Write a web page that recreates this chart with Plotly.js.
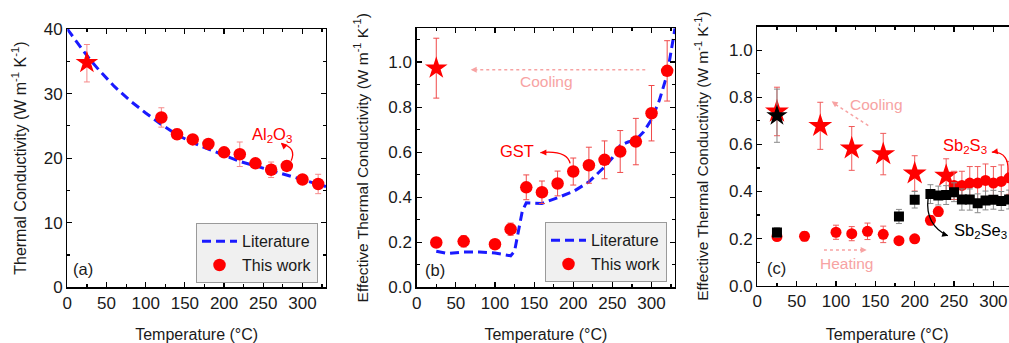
<!DOCTYPE html>
<html>
<head>
<meta charset="utf-8">
<script src="https://cdn.plot.ly/plotly-3.0.1.min.js"></script>
<style>
html,body{margin:0;padding:0;overflow:hidden;background:#fff;}
#chart{width:1030px;height:343px;}
</style>
</head>
<body>
<div id="chart"></div>
<script>
// ---------- Panel (a): Al2O3 ----------
const litA_T = [0,10,20,30,40,60,80,100,120,140,160,180,200,220,240,260,280,300,320,330];
const litA_k = [40.0,38.3,36.7,35.1,33.7,31.1,28.9,27.0,25.2,23.6,22.4,21.4,20.4,19.5,18.8,18.1,17.4,16.7,16.0,15.6];
const ptsA_T = [120,140,160,180,200,220,240,260,280,300,320];
const ptsA_k = [26.3,23.7,22.9,22.2,20.9,20.6,19.2,18.2,18.8,16.7,16.0];
const ptsA_err = [1.5,0.8,0.6,0.5,0.4,1.9,0.5,1.2,0.4,0.5,1.5];
const starA_T = [25];
const starA_k = [34.8];
const starA_errPlus = [2.8];
const starA_errMinus = [3.0];

// ---------- Panel (b): GST ----------
const litB_T = [25,40,60,80,100,120,125,130,135,140,160,180,200,220,240,250,260,270,280,290,300,310,320,330];
const litB_k = [0.160,0.150,0.157,0.157,0.152,0.140,0.160,0.250,0.340,0.375,0.372,0.398,0.425,0.468,0.535,0.575,0.630,0.645,0.655,0.690,0.745,0.830,0.945,1.150];
const ptsB_T = [25,60,100,120,140,160,180,200,220,240,260,280,300,320];
const ptsB_k = [0.199,0.204,0.191,0.258,0.444,0.422,0.461,0.514,0.542,0.566,0.603,0.647,0.773,0.961];
const ptsB_err = [0.015,0.025,0.012,0.027,0.055,0.050,0.055,0.060,0.080,0.084,0.093,0.103,0.123,0.134];
const starB_T = [25];
const starB_k = [0.973];
const starB_err = [0.133];

// ---------- Panel (c): Sb2S3 / Sb2Se3 ----------
const coolS_T = [25,80,120,160,200,240];
const coolS_k = [0.740,0.679,0.583,0.559,0.477,0.467];
const coolS_err = [0.103,0.100,0.093,0.088,0.075,0.072];
const heatS_T = [25,60,100,120,140,160,180,200,220,230,250,260,270,280,290,300,310,320,330];
const heatS_k = [0.209,0.210,0.227,0.221,0.231,0.218,0.191,0.199,0.278,0.315,0.426,0.426,0.436,0.436,0.447,0.436,0.443,0.458,0.470];
const heatS_err = [0.015,0.020,0.030,0.030,0.035,0.035,0.010,0.010,0.020,0.020,0.060,0.060,0.070,0.070,0.070,0.070,0.070,0.070,0.070];
const heatSe_T = [25,180,200,220,230,240,250,260,270,280,290,300,310,320,330];
const heatSe_k = [0.226,0.294,0.365,0.389,0.383,0.385,0.397,0.366,0.366,0.350,0.362,0.365,0.360,0.366,0.370];
const heatSe_err = [0.020,0.030,0.035,0.040,0.040,0.040,0.040,0.045,0.045,0.040,0.040,0.040,0.040,0.040,0.040];
const coolSe_T = [25];
const coolSe_k = [0.722];
const coolSe_err = [0.113];

const xTitle = 'Temperature (°C)';
const yTitleA = 'Thermal Conductivity (W m<sup>-1</sup> K<sup>-1</sup>)';
const yTitleBC = 'Effective Thermal Conductivity (W m<sup>-1</sup> K<sup>-1</sup>)';

// ---------- styling ----------
const W = 1030, H = 343;
const FONT = 'Liberation Sans, Arial, sans-serif';
const RED = '#ff0000', BLUE = '#1a1aff', PINK = '#f7a3a3';
const px = v => v / W, py = v => 1 - v / H;

function xAxis(dom, anchor) {
  return {
    domain: [px(dom[0]), px(dom[1])], anchor: anchor, range: [0, 330],
    dtick: 50, tick0: 0, ticks: 'inside', ticklen: 5, tickwidth: 1.2, tickcolor: '#000',
    minor: {dtick: 25, ticks: 'inside', ticklen: 3, tickwidth: 1.2, tickcolor: '#000', showgrid: false},
    showline: true, linecolor: '#000', linewidth: 1.3, mirror: 'allticks',
    showgrid: false, zeroline: false,
    tickfont: {family: FONT, size: 17, color: '#1a1a1a'},
    title: {text: xTitle, font: {family: FONT, size: 16, color: '#1a1a1a'}, standoff: 18}
  };
}
function yAxis(dom, anchor, range, dtick, mdt, title, fmt, tsize, stand) {
  return {
    domain: [py(dom[1]), py(dom[0])], anchor: anchor, range: range,
    dtick: dtick, tick0: 0, ticks: 'inside', ticklen: 5, tickwidth: 1.2, tickcolor: '#000',
    minor: {dtick: mdt, ticks: 'inside', ticklen: 3, tickwidth: 1.2, tickcolor: '#000', showgrid: false},
    showline: true, linecolor: '#000', linewidth: 1.3, mirror: 'allticks',
    showgrid: false, zeroline: false, tickformat: fmt,
    tickfont: {family: FONT, size: 17, color: '#1a1a1a'},
    title: {text: title, font: {family: FONT, size: tsize, color: '#1a1a1a'}, standoff: stand}
  };
}

const errStyle = (arr, color, minus) => ({
  type: 'data', array: arr, arrayminus: minus || arr, symmetric: !minus,
  visible: true, color: color, thickness: 1, width: 3
});

const traces = [
  // (a)
  {x: litA_T, y: litA_k, xaxis: 'x', yaxis: 'y', mode: 'lines', name: 'Literature', legend: 'legend',
   line: {color: BLUE, width: 3, dash: '9px,5px'}},
  {x: starA_T, y: starA_k, xaxis: 'x', yaxis: 'y', mode: 'markers', showlegend: false,
   marker: {symbol: 'star', size: 17, color: RED},
   error_y: errStyle(starA_errPlus, '#f68a8a', starA_errMinus)},
  {x: ptsA_T, y: ptsA_k, xaxis: 'x', yaxis: 'y', mode: 'markers', name: 'This work', legend: 'legend',
   marker: {symbol: 'circle', size: 12.5, color: RED},
   error_y: errStyle(ptsA_err, '#f68a8a')},
  // (b)
  {x: litB_T, y: litB_k, xaxis: 'x2', yaxis: 'y2', mode: 'lines', name: 'Literature', legend: 'legend2',
   line: {color: BLUE, width: 3, dash: '9px,5px'}},
  {x: starB_T, y: starB_k, xaxis: 'x2', yaxis: 'y2', mode: 'markers', showlegend: false,
   marker: {symbol: 'star', size: 17, color: RED},
   error_y: errStyle(starB_err, '#f04a4a')},
  {x: ptsB_T, y: ptsB_k, xaxis: 'x2', yaxis: 'y2', mode: 'markers', name: 'This work', legend: 'legend2',
   marker: {symbol: 'circle', size: 12.5, color: RED},
   error_y: errStyle(ptsB_err, '#f04a4a')},
  // (c)
  {x: coolS_T, y: coolS_k, xaxis: 'x3', yaxis: 'y3', mode: 'markers', showlegend: false,
   marker: {symbol: 'star', size: 18, color: RED},
   error_y: errStyle(coolS_err, '#f05a5a')},
  {x: heatS_T, y: heatS_k, xaxis: 'x3', yaxis: 'y3', mode: 'markers', showlegend: false,
   marker: {symbol: 'circle', size: 11, color: RED},
   error_y: errStyle(heatS_err, '#f05a5a')},
  {x: heatSe_T, y: heatSe_k, xaxis: 'x3', yaxis: 'y3', mode: 'markers', showlegend: false,
   marker: {symbol: 'square', size: 10, color: '#000'},
   error_y: errStyle(heatSe_err, '#8a8a8a')},
  {x: coolSe_T, y: coolSe_k, xaxis: 'x3', yaxis: 'y3', mode: 'markers', showlegend: false,
   marker: {symbol: 'star', size: 16, color: '#000'},
   error_y: errStyle(coolSe_err, '#8a8a8a')}
];

const legendStyle = (x, y) => ({
  x: px(x), y: py(y), xanchor: 'left', yanchor: 'top', xref: 'paper', yref: 'paper',
  bgcolor: '#f0f0f0', bordercolor: '#9a9a9a', borderwidth: 1,
  font: {family: FONT, size: 16, color: '#1a1a1a'}, tracegroupgap: 0, itemwidth: 35
});

const txt = (xr, yr, x, y, text, color, size) => ({
  xref: xr, yref: yr, x: x, y: y, text: text, showarrow: false,
  font: {family: FONT, size: size || 16, color: color}, xanchor: 'center', yanchor: 'middle'
});
const head = (xr, yr, x, y, ax, ay, color) => ({
  xref: xr, yref: yr, x: x, y: y, ax: ax, ay: ay, text: '', showarrow: true,
  arrowhead: 2, arrowsize: 1, arrowwidth: 1.2, arrowcolor: color
});

const annotations = [
  txt('x', 'y', 260.7, 23.6, 'Al<sub>2</sub>O<sub>3</sub>', RED, 16.5),
  head('x', 'y', 272.5, 22.3, 6, 5, RED),
  txt('x', 'y', 20.4, 2.9, '(a)', '#1a1a1a', 16.5),

  txt('x2', 'y2', 128, 0.606, 'GST', RED, 16.5),
  head('x2', 'y2', 158, 0.598, 7, 0, RED),
  txt('x2', 'y2', 166, 0.914, 'Cooling', PINK, 15.5),
  head('x2', 'y2', 69, 0.966, 8, 0, PINK),
  txt('x2', 'y2', 23.4, 0.077, '(b)', '#1a1a1a', 16.5),

  txt('x3', 'y3', 152, 0.769, 'Cooling', PINK, 15.5),
  head('x3', 'y3', 94.5, 0.783, 6, 4, PINK),
  txt('x3', 'y3', 113.6, 0.095, 'Heating', PINK, 15.5),
  head('x3', 'y3', 139, 0.152, -8, 0, PINK),
  txt('x3', 'y3', 264, 0.592, 'Sb<sub>2</sub>S<sub>3</sub>', RED, 16.5),
  head('x3', 'y3', 298, 0.567, 6, -1, RED),
  txt('x3', 'y3', 283, 0.234, 'Sb<sub>2</sub>Se<sub>3</sub>', '#000', 16.5),
  head('x3', 'y3', 242.5, 0.212, -6, -2, '#000'),
  txt('x3', 'y3', 24.6, 0.074, '(c)', '#1a1a1a', 16.5)
];

const shapes = [
  {type: 'path', xref: 'x', yref: 'y', path: 'M 285.5,19.6 Q 293,21.6 273,22.3', line: {color: RED, width: 1.3}},
  {type: 'path', xref: 'x2', yref: 'y2', path: 'M 196,0.55 Q 192,0.61 158,0.598', line: {color: RED, width: 1.3}},
  {type: 'line', xref: 'x2', yref: 'y2', x0: 292, y0: 0.966, x1: 72, y1: 0.966, line: {color: PINK, width: 1.5, dash: 'dot'}},
  {type: 'line', xref: 'x3', yref: 'y3', x0: 141, y0: 0.68, x1: 97, y1: 0.775, line: {color: PINK, width: 1.5, dash: 'dot'}},
  {type: 'line', xref: 'x3', yref: 'y3', x0: 84.7, y0: 0.152, x1: 136, y1: 0.152, line: {color: PINK, width: 1.5, dash: 'dot'}},
  {type: 'path', xref: 'x3', yref: 'y3', path: 'M 318,0.47 Q 322,0.57 298,0.567', line: {color: RED, width: 1.3}},
  {type: 'path', xref: 'x3', yref: 'y3', path: 'M 217,0.37 Q 213,0.26 242,0.212', line: {color: '#000', width: 1.3}}
];

const layout = {
  width: W, height: H, margin: {l: 0, r: 0, t: 0, b: 0, pad: 0},
  paper_bgcolor: '#fff', plot_bgcolor: '#fff',
  font: {family: FONT, color: '#1a1a1a'},
  xaxis: xAxis([67.3, 326], 'y'),
  yaxis: yAxis([29, 287.3], 'x', [0, 40], 10, 5, yTitleA, 'd', 16, 13),
  xaxis2: xAxis([416.7, 675], 'y2'),
  yaxis2: yAxis([28.3, 287.3], 'x2', [0, 1.15], 0.2, 0.1, yTitleBC, '.1f', 15.5, 16),
  xaxis3: xAxis([757.3, 1017], 'y3'),
  yaxis3: yAxis([26.7, 285.7], 'x3', [0, 1.1], 0.2, 0.1, yTitleBC, '.1f', 15.5, 16),
  legend: legendStyle(196, 223.3),
  legend2: legendStyle(545, 222.3),
  annotations: annotations,
  shapes: shapes,
  showlegend: true
};

Plotly.newPlot('chart', traces, layout, {displayModeBar: false, staticPlot: true});
</script>
</body>
</html>
